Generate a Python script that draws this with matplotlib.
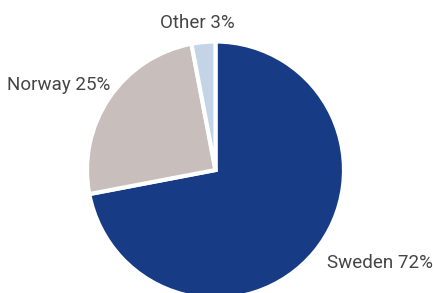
import matplotlib.pyplot as plt
import numpy as np

plt.rcParams["font.family"] = ["Roboto", "DejaVu Sans"]

countries = ["Sweden", "Norway", "Other"]
shares = [72, 25, 3]
colors = ["#173b84", "#c8bebb", "#c2d4e6"]

W, H = 433, 293
fig = plt.figure(figsize=(W / 100, H / 100), dpi=100)
ax = fig.add_axes([0, 0, 1, 1])
ax.set_xlim(0, W)
ax.set_ylim(0, H)
ax.set_aspect("equal")
ax.axis("off")

cx, cy, r = 215.5, 123, 128.5
wedges, _ = ax.pie(
    shares,
    colors=colors,
    startangle=90,
    counterclock=False,
    center=(cx, cy),
    radius=r,
    wedgeprops=dict(edgecolor="white", linewidth=3),
)
ax.set_xlim(0, W)
ax.set_ylim(0, H)

labels = [f"{c} {s}%" for c, s in zip(countries, shares)]
# (distance factor, ha, x nudge) per label
placement = [(1.13, "left", 0), (1.17, "right", 19), (1.15, "center", -4)]
for w, lab, (d, ha, dx) in zip(wedges, labels, placement):
    ang = np.deg2rad((w.theta1 + w.theta2) / 2)
    x = cx + d * r * np.cos(ang) + dx
    y = cy + d * r * np.sin(ang)
    ax.text(x, y, lab, ha=ha, va="center", fontsize=13.5, color="#454545")

fig.savefig("out.png", dpi=100)
